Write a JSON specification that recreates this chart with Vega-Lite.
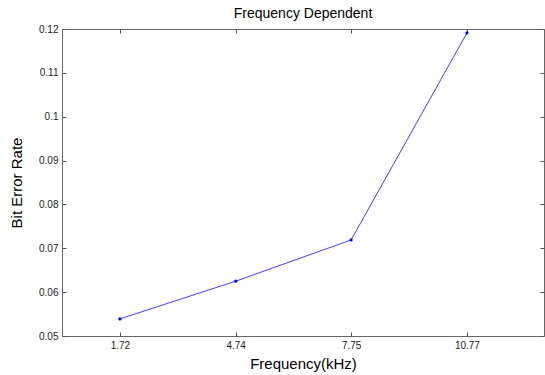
{
  "$schema": "https://vega.github.io/schema/vega-lite/v6.json",
  "autosize": "none",
  "width": 482,
  "height": 307,
  "padding": {"left": 62, "top": 29, "right": 1, "bottom": 39},
  "background": "white",
  "title": {"text": "Frequency Dependent", "font": "Liberation Sans", "fontSize": 14, "fontWeight": "normal", "color": "#000000", "offset": 3},
  "config": {
    "view": {"stroke": "#666666", "strokeWidth": 1},
    "axis": {"grid": false, "domain": false, "tickColor": "#555555", "tickSize": -4, "labelFont": "Liberation Sans", "labelFontSize": 10, "labelColor": "#222222", "titleFont": "Liberation Sans", "titleFontSize": 15, "titleFontWeight": "normal", "titleColor": "#000000"}
  },
  "data": {"values": [
    {"freq": 1.72, "ber": 0.0539},
    {"freq": 4.74, "ber": 0.0625},
    {"freq": 7.75, "ber": 0.0719},
    {"freq": 10.77, "ber": 0.1191}
  ]},
  "resolve": {"axis": {"x": "independent", "y": "independent"}},
  "layer": [
    {
      "mark": {"type": "line", "color": "#4040ff", "strokeWidth": 1, "point": {"filled": true, "size": 10, "color": "#0000ff"}},
      "encoding": {
        "x": {"field": "freq", "type": "quantitative", "scale": {"domain": [0.21, 12.78], "nice": false, "zero": false},
          "axis": {"orient": "bottom", "values": [1.72, 4.74, 7.75, 10.77], "format": ".2~f", "title": "Frequency(kHz)", "labelPadding": 8, "titlePadding": 6}},
        "y": {"field": "ber", "type": "quantitative", "scale": {"domain": [0.05, 0.12], "nice": false, "zero": false},
          "axis": {"orient": "left", "values": [0.05, 0.06, 0.07, 0.08, 0.09, 0.1, 0.11, 0.12], "format": ".2~f", "title": "Bit Error Rate", "labelPadding": 8, "titlePadding": 14}}
      }
    },
    {
      "mark": {"type": "point", "opacity": 0},
      "encoding": {
        "x": {"field": "freq", "type": "quantitative", "axis": {"orient": "top", "values": [1.72, 4.74, 7.75, 10.77], "labels": false, "title": null}},
        "y": {"field": "ber", "type": "quantitative", "axis": {"orient": "right", "values": [0.05, 0.06, 0.07, 0.08, 0.09, 0.1, 0.11, 0.12], "labels": false, "title": null}}
      }
    }
  ]
}
